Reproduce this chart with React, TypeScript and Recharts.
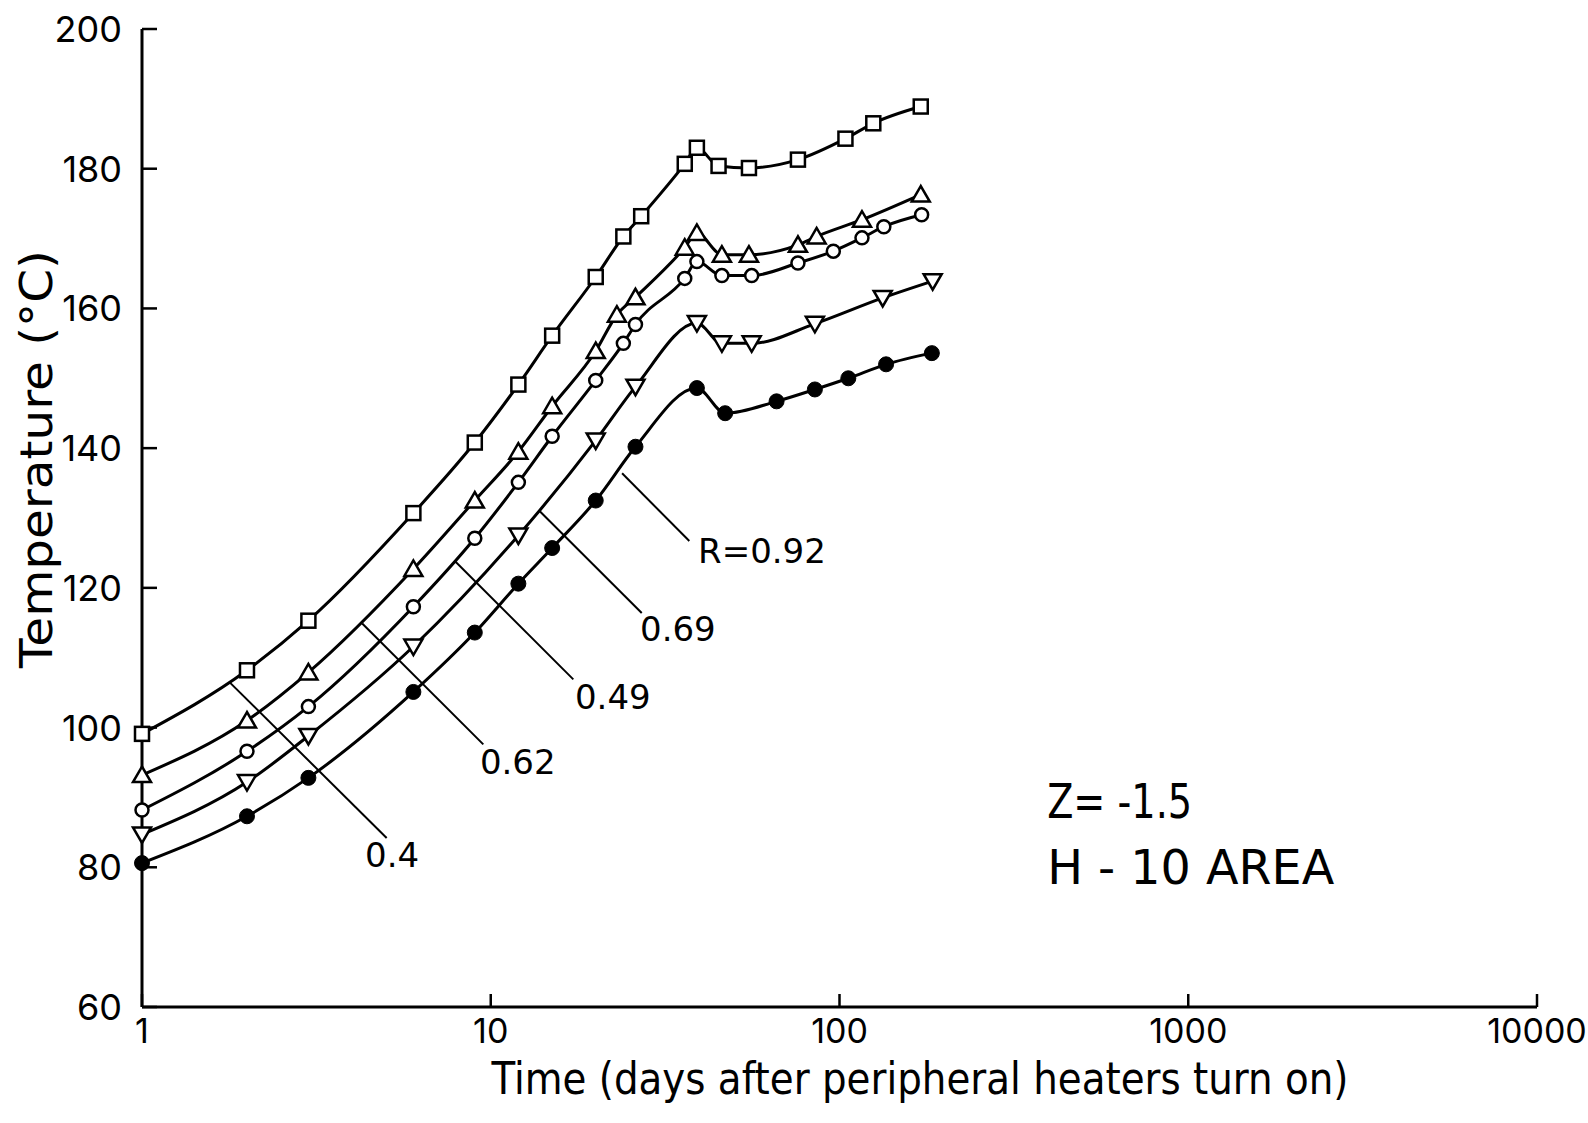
import React from 'react';
import { LineChart, Line, XAxis, YAxis, ReferenceLine, ReferenceDot } from 'recharts';

const FONT = '"DejaVu Sans", sans-serif';
const TICK_FONT = 'Inter, "DejaVu Sans", sans-serif';

const xTicks = [1, 10, 100, 1000, 10000];
const yTicks = [60, 80, 100, 120, 140, 160, 180, 200];

// R = 0.4 (open squares)
const daysR040 = [1, 2, 3, 6, 9, 12, 15, 20, 24, 27, 36, 39, 45, 55, 76, 104, 125, 171];
const tempR040 = [99.1, 108.2, 115.3, 130.7, 140.8, 149.1, 156.1, 164.5, 170.3, 173.2, 180.7, 183.0, 180.4, 180.1, 181.3, 184.3, 186.5, 188.9];

// R = 0.62 (open triangles)
const daysR062 = [1, 2, 3, 6, 9, 12, 15, 20, 23, 26, 36, 39, 46, 55, 76, 86, 116, 171];
const tempR062 = [93.2, 101.0, 107.9, 122.7, 132.5, 139.5, 146.0, 153.9, 159.1, 161.6, 168.7, 170.8, 167.7, 167.7, 169.1, 170.3, 172.7, 176.3];

// R = 0.49 (open circles)
const daysR049 = [1, 2, 3, 6, 9, 12, 15, 20, 24, 26, 36, 39, 46, 56, 76, 96, 116, 134, 172];
const tempR049 = [88.2, 96.6, 103.0, 117.3, 127.1, 135.1, 141.7, 149.7, 155.0, 157.7, 164.3, 166.7, 164.7, 164.7, 166.5, 168.2, 170.1, 171.7, 173.4];

// R = 0.69 (inverted triangles)
const daysR069 = [1, 2, 3, 6, 12, 20, 26, 39, 46, 56, 85, 133, 185];
const tempR069 = [84.7, 92.2, 98.8, 111.6, 127.5, 141.1, 148.8, 157.9, 155.0, 155.0, 157.8, 161.5, 163.9];

// R = 0.92 (filled circles)
const daysR092 = [1, 2, 3, 6, 9, 12, 15, 20, 26, 39, 47, 66, 85, 106, 136, 184];
const tempR092 = [80.6, 87.3, 92.8, 105.1, 113.6, 120.6, 125.7, 132.5, 140.2, 148.6, 145.0, 146.7, 148.4, 150.0, 152.0, 153.6];

// leader lines for the R labels (days, °C)
const leaderLabels = ['0.4', '0.62', '0.49', '0.69', 'R=0.92'];
const leaderFrom = [[1.79, 106.4], [4.28, 114.9], [7.9, 123.8], [13.8, 131.0], [23.8, 136.4]];
const leaderTo = [[5.03, 84.2], [9.52, 97.6], [17.25, 106.9], [27.1, 116.4], [37.1, 126.7]];
const leaderText = [[4.36, 80.0], [9.31, 93.3], [17.44, 102.6], [26.8, 112.4], [39.3, 123.6]];

const toPoints = (days: number[], temps: number[]) =>
  days.map((day, i) => ({ day, temp: temps[i] }));

const series = [
  { name: 'R=0.4', shape: 'square', data: toPoints(daysR040, tempR040) },
  { name: 'R=0.62', shape: 'triUp', data: toPoints(daysR062, tempR062) },
  { name: 'R=0.49', shape: 'circle', data: toPoints(daysR049, tempR049) },
  { name: 'R=0.69', shape: 'triDown', data: toPoints(daysR069, tempR069) },
  { name: 'R=0.92', shape: 'dot', data: toPoints(daysR092, tempR092) },
];

function Marker({ cx, cy, shape }: any) {
  if (cx == null || cy == null) return null;
  const common = { stroke: '#000', strokeWidth: 2.5, fill: '#fff' };
  switch (shape) {
    case 'square':
      return <rect x={cx - 7} y={cy - 7} width={14} height={14} {...common} />;
    case 'triUp':
      return <polygon points={`${cx},${cy - 8.5} ${cx - 9},${cy + 7} ${cx + 9},${cy + 7}`} {...common} />;
    case 'triDown':
      return <polygon points={`${cx - 9},${cy - 7} ${cx + 9},${cy - 7} ${cx},${cy + 8.5}`} {...common} />;
    case 'circle':
      return <circle cx={cx} cy={cy} r={6.5} {...common} />;
    default:
      return <circle cx={cx} cy={cy} r={7.5} fill="#000" stroke="#000" />;
  }
}

const makeDot = (shape: string) => (props: any) => (
  <Marker key={`${shape}-${props.index}`} cx={props.cx} cy={props.cy} shape={shape} />
);

const YTick = (p: any) => (
  <text x={p.x} y={p.y} dy="0.36em" textAnchor="end" fontSize={36} fontFamily={TICK_FONT} fill="#000">
    {p.payload.value}
  </text>
);

const XTick = (p: any) => (
  <text x={p.x} y={p.y} dy="0.36em" textAnchor="middle" fontSize={34} fontFamily={TICK_FONT} fill="#000">
    {p.payload.value}
  </text>
);

const textProps = { fontFamily: FONT, fill: '#000' };

export default function App() {
  return (
    <div style={{ position: 'absolute', left: 0, top: 0, width: 1588, height: 1123, background: '#fff' }}>
      <LineChart width={1588} height={1123} margin={{ top: 29, right: 51, bottom: 16, left: 42 }}>
        <XAxis
          dataKey="day"
          type="number"
          scale="log"
          domain={[1, 10000]}
          ticks={xTicks}
          height={100}
          axisLine={{ stroke: '#000', strokeWidth: 3 }}
          tickLine={{ stroke: '#000', strokeWidth: 2.5 }}
          tickSize={-13}
          tickMargin={37}
          tick={XTick}
          label={{
            content: () => (
              <text x={920} y={1094} textAnchor="middle" fontSize={44} textLength={857} lengthAdjust="spacingAndGlyphs" {...textProps}>
                Time (days after peripheral heaters turn on)
              </text>
            ),
          }}
        />
        <XAxis
          xAxisId="top"
          orientation="top"
          type="number"
          scale="log"
          domain={[1, 10000]}
          height={0}
          tick={false}
          tickLine={false}
          axisLine={{ stroke: '#000', strokeWidth: 3 }}
        />
        <YAxis
          type="number"
          domain={[60, 200]}
          ticks={yTicks}
          width={100}
          axisLine={{ stroke: '#000', strokeWidth: 3 }}
          tickLine={{ stroke: '#000', strokeWidth: 2.5 }}
          tickSize={-15}
          tickMargin={35}
          tick={YTick}
          label={{
            content: () => (
              <text
                x={52}
                y={459}
                transform="rotate(-90, 52, 459)"
                textAnchor="middle"
                fontSize={45}
                textLength={418}
                lengthAdjust="spacingAndGlyphs"
                {...textProps}
              >
                Temperature (°C)
              </text>
            ),
          }}
        />
        <YAxis
          yAxisId="right"
          orientation="right"
          type="number"
          domain={[60, 200]}
          ticks={yTicks}
          width={0}
          axisLine={{ stroke: '#000', strokeWidth: 3 }}
          tickLine={{ stroke: '#000', strokeWidth: 2.5 }}
          tickSize={-15}
          tick={() => <g />}
        />

        {leaderLabels.map((label, i) => (
          <ReferenceLine
            key={`leader-${label}`}
            segment={[
              { x: leaderFrom[i][0], y: leaderFrom[i][1] },
              { x: leaderTo[i][0], y: leaderTo[i][1] },
            ]}
            stroke="#000"
            strokeWidth={2}
          />
        ))}
        {leaderLabels.map((label, i) => (
          <ReferenceDot
            key={`leader-text-${label}`}
            x={leaderText[i][0]}
            y={leaderText[i][1]}
            r={0}
            shape={(p: any) => (
              <text x={p.cx} y={p.cy} fontSize={34} {...textProps}>
                {label}
              </text>
            )}
          />
        ))}

        {series.map((s) => (
          <Line
            key={s.name}
            name={s.name}
            data={s.data}
            dataKey="temp"
            type="monotoneX"
            stroke="#000"
            strokeWidth={3}
            dot={makeDot(s.shape)}
            activeDot={false}
            isAnimationActive={false}
          />
        ))}

        <ReferenceDot
          x={394}
          y={87.1}
          r={0}
          shape={(p: any) => (
            <text x={p.cx} y={p.cy} fontSize={48} textLength={145} lengthAdjust="spacingAndGlyphs" {...textProps}>
              Z= -1.5
            </text>
          )}
        />
        <ReferenceDot
          x={394}
          y={77.6}
          r={0}
          shape={(p: any) => (
            <text x={p.cx} y={p.cy} fontSize={48} textLength={287} lengthAdjust="spacingAndGlyphs" {...textProps}>
              H - 10 AREA
            </text>
          )}
        />
      </LineChart>
    </div>
  );
}
